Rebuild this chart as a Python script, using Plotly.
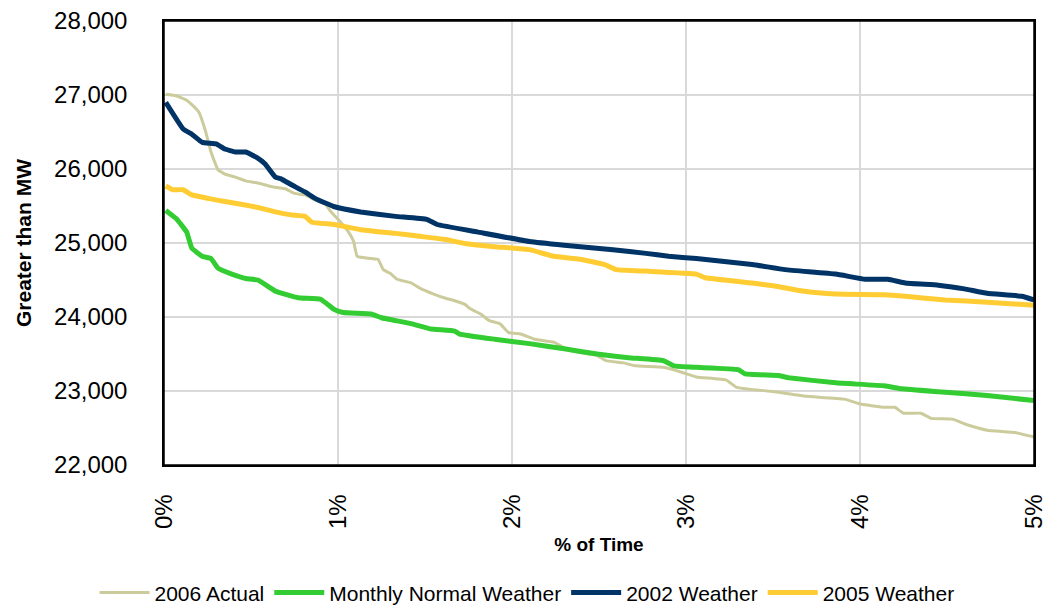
import plotly.graph_objects as go

# % of time (x) and MW (y) for each series
actual_x = [0.01, 0.07, 0.13, 0.16, 0.20, 0.24, 0.27, 0.31, 0.35, 0.41,
            0.47, 0.54, 0.62, 0.70, 0.75, 0.81, 0.87, 0.93, 0.96, 1.00,
            1.06, 1.09, 1.11, 1.19, 1.23, 1.26, 1.30, 1.34, 1.42, 1.47,
            1.55, 1.61, 1.67, 1.73, 1.76, 1.82, 1.87, 1.93, 1.98, 2.05,
            2.13, 2.24, 2.31, 2.39, 2.49, 2.54, 2.64, 2.71, 2.87, 2.98,
            3.06, 3.23, 3.29, 3.38, 3.51, 3.57, 3.69, 3.91, 4.01, 4.14,
            4.20, 4.25, 4.35, 4.41, 4.53, 4.62, 4.73, 4.89, 5.0]
actual_y = [27010, 26990, 26930, 26870, 26770, 26500, 26230, 25990, 25930, 25890,
            25840, 25810, 25760, 25730, 25670, 25650, 25580, 25520, 25420, 25320,
            25150, 25020, 24820, 24790, 24780, 24640, 24590, 24510, 24460, 24390,
            24310, 24260, 24220, 24170, 24110, 24040, 23950, 23910, 23790, 23770,
            23700, 23660, 23570, 23520, 23480, 23410, 23380, 23340, 23320, 23250,
            23190, 23150, 23050, 23020, 22990, 22970, 22930, 22890, 22820, 22780,
            22780, 22700, 22700, 22630, 22620, 22540, 22470, 22440, 22380]

normal_x = [0.01, 0.07, 0.13, 0.16, 0.22, 0.27, 0.31, 0.39, 0.47, 0.54,
            0.64, 0.77, 0.90, 0.98, 1.03, 1.19, 1.25, 1.42, 1.53, 1.67,
            1.70, 1.90, 2.10, 2.30, 2.49, 2.67, 2.87, 2.93, 3.06, 3.30,
            3.34, 3.53, 3.59, 3.86, 4.14, 4.24, 4.45, 4.73, 5.0]
normal_y = [25440, 25330, 25150, 24930, 24820, 24790, 24660, 24580, 24520, 24500,
            24350, 24260, 24240, 24100, 24060, 24040, 23990, 23910, 23840, 23810,
            23770, 23700, 23640, 23570, 23500, 23450, 23410, 23340, 23320, 23290,
            23230, 23210, 23180, 23110, 23070, 23030, 22990, 22940, 22870]

w2002_x = [0.01, 0.11, 0.16, 0.22, 0.30, 0.35, 0.41, 0.47, 0.53, 0.58,
           0.64, 0.67, 0.73, 0.81, 0.87, 0.98, 1.13, 1.33, 1.51, 1.57,
           1.80, 2.10, 2.30, 2.58, 2.77, 2.90, 3.06, 3.38, 3.57, 3.86,
           4.03, 4.16, 4.26, 4.45, 4.60, 4.73, 4.93, 5.0]
w2002_y = [26900, 26540, 26470, 26360, 26340, 26270, 26230, 26230, 26160, 26070,
           25890, 25870, 25790, 25690, 25600, 25490, 25420, 25360, 25320, 25250,
           25150, 25020, 24970, 24910, 24860, 24820, 24790, 24710, 24640, 24580,
           24510, 24510, 24460, 24430, 24380, 24320, 24280, 24230]

w2005_x = [0.01, 0.05, 0.11, 0.16, 0.26, 0.35, 0.45, 0.54, 0.64, 0.73,
           0.81, 0.85, 0.98, 1.13, 1.33, 1.47, 1.61, 1.74, 1.90, 2.10,
           2.24, 2.39, 2.53, 2.60, 2.77, 3.06, 3.11, 3.38, 3.51, 3.67,
           3.86, 4.14, 4.26, 4.49, 4.73, 5.0]
w2005_y = [25770, 25720, 25720, 25650, 25600, 25560, 25520, 25480, 25420, 25380,
           25360, 25280, 25250, 25180, 25130, 25090, 25050, 24990, 24950, 24910,
           24820, 24780, 24710, 24640, 24620, 24580, 24530, 24460, 24420, 24350,
           24310, 24300, 24280, 24230, 24200, 24160]

x_ticks = [0, 1, 2, 3, 4, 5]
x_tick_labels = ["0%", "1%", "2%", "3%", "4%", "5%"]
y_ticks = [22000, 23000, 24000, 25000, 26000, 27000, 28000]
y_tick_labels = ["22,000", "23,000", "24,000", "25,000", "26,000", "27,000", "28,000"]

series = [
    ("2006 Actual", actual_x, actual_y, "#CBCB9C", 3),
    ("Monthly Normal Weather", normal_x, normal_y, "#33CC33", 5),
    ("2002 Weather", w2002_x, w2002_y, "#003366", 5),
    ("2005 Weather", w2005_x, w2005_y, "#FFCC33", 5),
]

fig = go.Figure()
for name, xs, ys, color, width in series:
    fig.add_trace(go.Scatter(x=xs, y=ys, name=name, mode="lines",
                             line=dict(color=color, width=width, shape="spline", smoothing=0.3)))

# the page body adds an 8px margin, so the figure is sized to fit inside the window
fig.update_layout(
    width=1038, height=598,
    margin=dict(l=156, r=12, t=13, b=141, autoexpand=False),
    paper_bgcolor="white", plot_bgcolor="white",
    font=dict(family="Liberation Sans, Arial, sans-serif", color="black"),
    showlegend=True,
    legend=dict(orientation="h", xref="container", yref="container",
                x=0.5, xanchor="center", y=0.022, yanchor="middle",
                font=dict(size=21), itemwidth=50, tracegroupgap=0),
    annotations=[dict(text="<b>Greater than MW</b>", xref="paper", yref="paper",
                      x=-0.162, y=0.5, xanchor="center", yanchor="middle",
                      textangle=-90, showarrow=False, font=dict(size=21))],
    shapes=[dict(type="rect", xref="paper", yref="paper", x0=0, x1=1, y0=0, y1=1,
                 line=dict(color="black", width=1.5), layer="above")],
)
fig.update_xaxes(
    range=[0, 5], tickvals=x_ticks, ticktext=x_tick_labels, tickangle=-90,
    tickfont=dict(size=24), showgrid=True, gridcolor="#D9D9D9", gridwidth=1.5,
    showline=True, linecolor="black", linewidth=1.5, mirror=True,
    zeroline=False, ticks="", ticklabelstandoff=18, automargin=False,
    ticklabeloverflow="allow",
    title=dict(text="<b>% of Time</b>", font=dict(size=19), standoff=10),
)
fig.update_yaxes(
    range=[22000, 28000], tickvals=y_ticks, ticktext=y_tick_labels,
    tickfont=dict(size=24), showgrid=True, gridcolor="#D9D9D9", gridwidth=1.5,
    showline=True, linecolor="black", linewidth=1.5, mirror=True,
    zeroline=False, ticks="", ticklabelstandoff=30, automargin=False,
    ticklabeloverflow="allow",
)

fig.write_html("out.html")
